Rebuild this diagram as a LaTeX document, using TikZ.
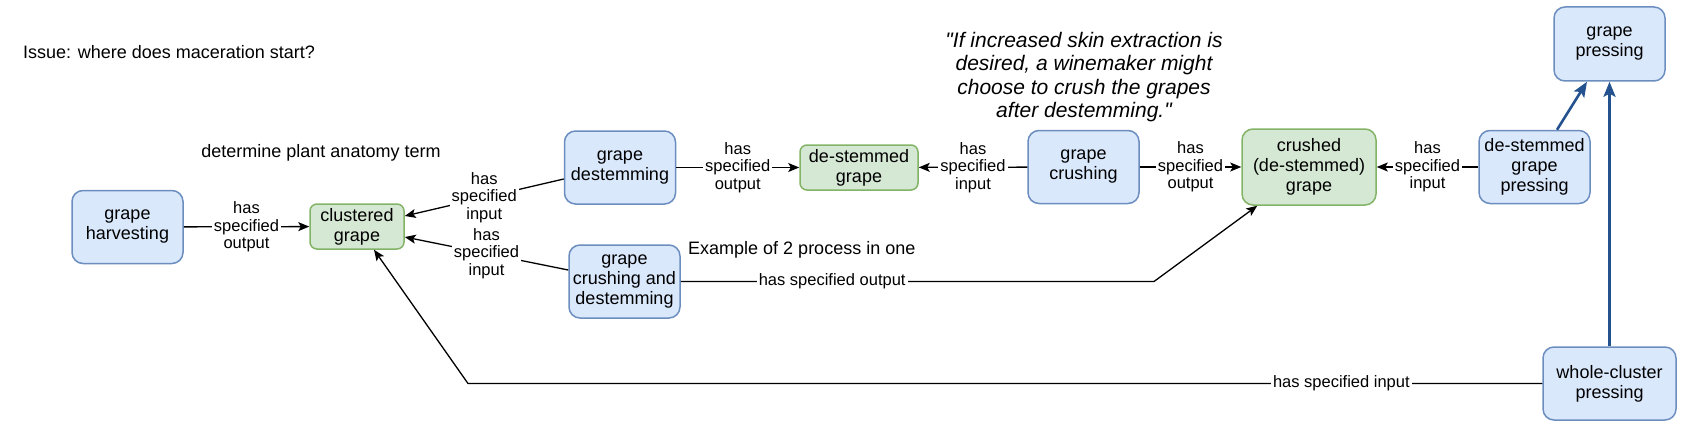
\documentclass[tikz,border=0pt]{standalone}
\usepackage{fontspec}
\setmainfont{Liberation Sans}[Ligatures=TeXOff]
\usepackage{xcolor}
\usepackage{tikz}
\usetikzlibrary{calc, positioning, arrows.meta}

\definecolor{procfill}{HTML}{DAE8FC}
\definecolor{procline}{HTML}{6C8EBF}
\definecolor{entfill}{HTML}{D5E8D4}
\definecolor{entline}{HTML}{82B366}
\definecolor{pressblue}{HTML}{23528F}

\tikzset{
    boxfont/.style={font=\fontsize{18}{20}\selectfont},
    process/.style={boxfont, draw=procline, fill=procfill, line width=1.5pt,
        rounded corners=11pt, minimum width=111pt, minimum height=73pt,
        align=center, inner sep=2pt},
    entity/.style={boxfont, draw=entline, fill=entfill, line width=1.5pt,
        rounded corners=7pt, minimum height=45pt, align=center, inner sep=2pt},
    rel/.style={fill=white, align=center, inner sep=2pt,
        font=\fontsize{16.5}{17.5}\selectfont},
    note/.style={boxfont, inner sep=0pt},
    link/.style={line width=1.3pt, -{Stealth[length=11pt, width=9pt, inset=2.5pt]}},
    bluelink/.style={draw=pressblue, line width=2.6pt,
        -{Stealth[length=15pt, width=12pt, inset=3pt]}},
}

\begin{document}
\begin{tikzpicture}[x=1pt, y=-1pt]
    \useasboundingbox (0,0) rectangle (1692,428);

    % Ghi chú
    \node[note, anchor=west] (issue) at (23,52) {Issue: where does maceration start?};
    \node[note] (anatomy) at (321,153) {determine plant anatomy term};
    \node[note, anchor=west] (example) at (688,250) {Example of 2 process in one};
    \node[align=center, inner sep=0pt, font=\itshape\fontsize{21}{23.5}\selectfont]
        (quote) at (1084,77) {"If increased skin extraction is\\desired, a winemaker might\\choose to crush the grapes\\after destemming."};

    % Quá trình và sản phẩm
    \node[process] (harv) at (127.5,227) {grape\\harvesting};
    \node[entity, minimum width=94pt] (clust) at (357,226.5) {clustered\\grape};
    \node[process] (destem) at (620,167.5) {grape\\destemming};
    \node[entity, minimum width=118pt] (dgrape) at (859,167.5) {de-stemmed\\grape};
    \node[process] (crush) at (1083.5,167) {grape\\crushing};
    \node[entity, minimum width=134pt, minimum height=76pt, rounded corners=11pt]
        (cgrape) at (1309,167) {crushed\\(de-stemmed)\\grape};
    \node[process] (dpress) at (1534.5,167) {de-stemmed\\grape\\pressing};
    \node[process, minimum height=74pt] (gpress) at (1609.5,44) {grape\\pressing};
    \node[process, minimum width=133pt] (wpress) at (1609.5,383.5) {whole-cluster\\pressing};
    \node[process] (both) at (624.5,281.5) {grape\\crushing and\\destemming};

    % Quan hệ
    \draw[link] (harv) -- node[rel] {has\\specified\\output} (clust);
    \draw[link] ([yshift=-11.5pt]destem.west) -- node[rel] {has\\specified\\input} ([yshift=10.5pt]clust.east);
    \draw[link] ([yshift=11.5pt]both.west) -- node[rel] {has\\specified\\input} ([yshift=-10.5pt]clust.east);
    \draw[link] (destem) -- node[rel] {has\\specified\\output} (dgrape);
    \draw[link] (crush) -- node[rel] {has\\specified\\input} (dgrape);
    \draw[link] (crush) -- node[rel] {has\\specified\\output} (cgrape);
    \draw[link] (dpress) -- node[rel] {has\\specified\\input} (cgrape);

    % Đường gấp khúc
    \coordinate (kneeA) at (1154,281.5);
    \coordinate (kneeB) at (468,383.5);
    \draw[link] (both.east) -- node[rel, pos=0.32] {has specified output} (kneeA)
        -- ([xshift=16pt]cgrape.south west);
    \draw[link] (wpress.west) -- node[rel, pos=0.187] {has specified input} (kneeB)
        -- ([xshift=17pt]clust.south);

    % Ép nho
    \draw[bluelink] ([xshift=22.5pt]dpress.north) -- ([xshift=-22.5pt]gpress.south);
    \draw[bluelink] (wpress) -- (gpress);
\end{tikzpicture}
\end{document}
